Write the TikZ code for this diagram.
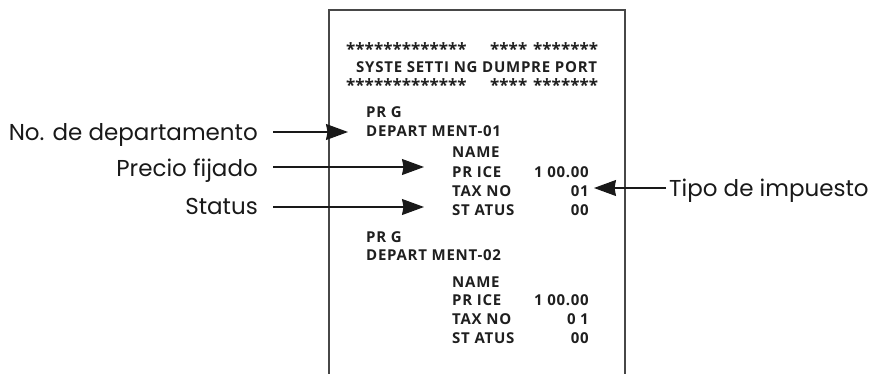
\documentclass[tikz,border=0pt]{standalone}
\usepackage{fontspec}
\setmainfont{Open Sans}
\newfontfamily\labfont{Poppins}
\newfontfamily\recfont[LetterSpace=5]{Open Sans}
\newfontfamily\starfont{Open Sans}
\usetikzlibrary{arrows.meta}
\tikzset{
  rec/.style={inner sep=0pt, anchor=base west, font=\recfont\bfseries\fontsize{15}{15}\selectfont, text=black!88},
  recr/.style={rec, anchor=base east},
  stars/.style={rec, font=\starfont\bfseries\fontsize{17}{17}\selectfont},
  lab/.style={inner sep=0pt, text height=16pt, text depth=0pt, font=\labfont\fontsize{23}{23}\selectfont, text=black!90},
  arr/.style={-{Stealth[length=22pt,width=16pt,inset=1.5pt]}, line width=1.1pt, draw=black!90},
  paper/.style={line width=1.8pt, draw=black!72}
}
\begin{document}
\begin{tikzpicture}[x=1pt,y=-1pt]
\useasboundingbox (0,0) rectangle (872,373);
% receipt outline
\draw[paper] (329,373.9) -- (329,10) -- (625,10) -- (625,373.9);
% header
\node[stars] (st1a) at (346,55) {*************};
\node[stars] (st1b) at (490,55) {****};
\node[stars] (st1c) at (533,55) {*******};
\node[rec] (title) at (356,72) {SYSTE SETTI NG DUMPRE PORT};
\node[stars] (st3a) at (346,91) {*************};
\node[stars] (st3b) at (490,91) {****};
\node[stars] (st3c) at (533,91) {*******};
% block 1
\node[rec] (prg1) at (366,117) {PR G};
\node[rec] (dep1) at (366,136) {DEPART MENT-01};
\node[rec] (name1) at (452,157) {NAME};
\node[rec] (price1) at (452,177) {PR ICE};
\node[rec] (tax1) at (452,196) {TAX NO};
\node[rec] (stat1) at (452,215) {ST ATUS};
\node[recr] (pv1) at (589,177) {1 00.00};
\node[recr] (tv1) at (589,196) {01};
\node[recr] (sv1) at (589,215) {00};
% block 2
\node[rec] (prg2) at (366,242) {PR G};
\node[rec] (dep2) at (366,260) {DEPART MENT-02};
\node[rec] (name2) at (452,287) {NAME};
\node[rec] (price2) at (452,305) {PR ICE};
\node[rec] (tax2) at (452,324) {TAX NO};
\node[rec] (stat2) at (452,343) {ST ATUS};
\node[recr] (pv2) at (589,305) {1 00.00};
\node[recr] (tv2) at (589,324) {0 1};
\node[recr] (sv2) at (589,343) {00};
% labels
\node[lab, anchor=east] (ldep) at (258,132) {No. de departamento};
\node[lab, anchor=east] (lpre) at (258,168) {Precio fijado};
\node[lab, anchor=east] (lsta) at (258,206) {Status};
\node[lab, anchor=west] (ltax) at (669,188) {Tipo de impuesto};
% arrow tips
\coordinate (tdep) at (348,132);
\coordinate (tpre) at (424,167);
\coordinate (tsta) at (424,207);
\coordinate (ttax) at (594,188);
\draw[arr] ([xshift=15pt]ldep.east) -- (tdep);
\draw[arr] ([xshift=15pt]lpre.east |- tpre) -- (tpre);
\draw[arr] ([xshift=15pt]lsta.east |- tsta) -- (tsta);
\draw[arr] ([xshift=-3pt]ltax.west) -- (ttax);
\end{tikzpicture}
\end{document}
